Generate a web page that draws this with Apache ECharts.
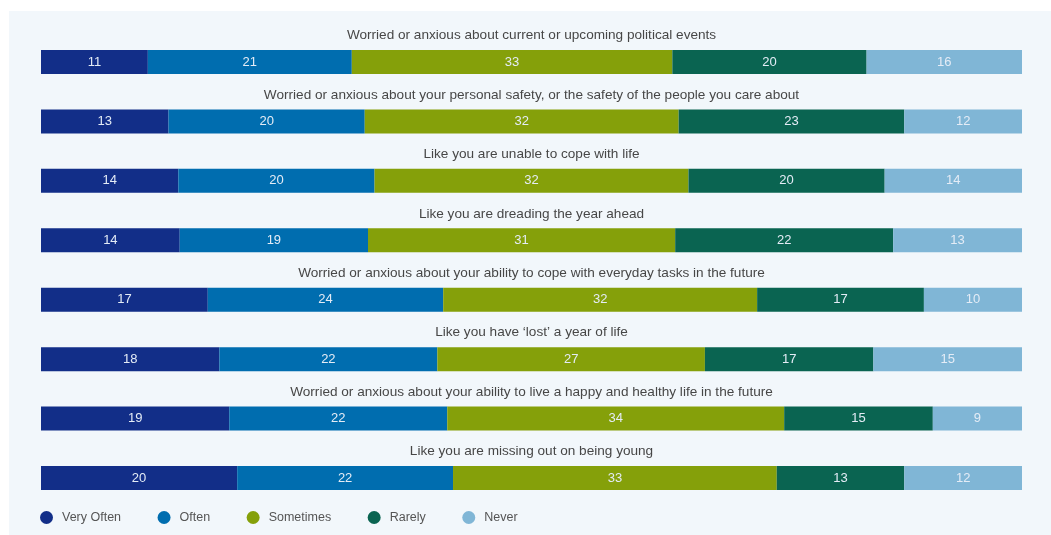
<!DOCTYPE html>
<html>
<head>
<meta charset="utf-8">
<script src="https://cdn.jsdelivr.net/npm/echarts@6/dist/echarts.min.js"></script>
<style>
html,body{margin:0;padding:0;background:#ffffff;}
#c{width:1051px;height:535px;}
</style>
</head>
<body>
<div id="c"></div>
<script>
var questions = [
  "Worried or anxious about current or upcoming political events",
  "Worried or anxious about your personal safety, or the safety of the people you care about",
  "Like you are unable to cope with life",
  "Like you are dreading the year ahead",
  "Worried or anxious about your ability to cope with everyday tasks in the future",
  "Like you have \u2018lost\u2019 a year of life",
  "Worried or anxious about your ability to live a happy and healthy life in the future",
  "Like you are missing out on being young"
];
var responses = ["Very Often", "Often", "Sometimes", "Rarely", "Never"];
var veryOften = [11, 13, 14, 14, 17, 18, 19, 20];
var often     = [21, 20, 20, 19, 24, 22, 22, 22];
var sometimes = [33, 32, 32, 31, 32, 27, 34, 33];
var rarely    = [20, 23, 20, 22, 17, 17, 15, 13];
var never     = [16, 12, 14, 13, 10, 15, 9, 12];
var colors = ["#122e88", "#006daf", "#85a00a", "#0a6451", "#80b6d6"];

var values = [veryOften, often, sometimes, rarely, never];
var fontFam = "'Liberation Sans', Arial, Helvetica, sans-serif";
var firstTop = 50, pitch = 59.43, barH = 24, leftPx = 41, rightPx = 29;

var grids = [], xAxes = [], yAxes = [], series = [], graphics = [];
graphics.push({type:'rect', shape:{x:9, y:11, width:1042, height:524}, style:{fill:'#f2f7fb'}, z:-10, silent:true});
questions.forEach(function(q, r){
  var top = firstTop + r * pitch;
  var total = 0;
  values.forEach(function(arr){ total += arr[r]; });
  grids.push({left:leftPx, right:rightPx, top:top, height:barH, containLabel:false});
  xAxes.push({type:'value', gridIndex:r, min:0, max:total, show:false});
  yAxes.push({type:'category', gridIndex:r, data:[q], show:false});
  graphics.push({type:'text', x:(leftPx + 1051 - rightPx)/2, y:top - 14.5, style:{text:q, fill:'#474747', font:'13.6px ' + fontFam, textAlign:'center', textVerticalAlign:'middle'}, silent:true});
  responses.forEach(function(name, c){
    series.push({
      type:'bar', name:name, stack:'row'+r, xAxisIndex:r, yAxisIndex:r,
      barWidth:barH, data:[values[c][r]],
      itemStyle:{color:colors[c]},
      label:{show:true, position:'inside', color:'#e4ecf6', fontSize:13, fontFamily:fontFam},
      emphasis:{disabled:true}, animation:false
    });
  });
});

var chart = echarts.init(document.getElementById('c'), null, {renderer:'canvas'});
chart.setOption({
  animation:false,
  backgroundColor:'#ffffff',
  color:colors,
  textStyle:{fontFamily:fontFam},
  grid:grids, xAxis:xAxes, yAxis:yAxes, series:series,
  graphic:graphics,
  legend:{
    data:responses, left:40, top:511, icon:'circle', itemWidth:13, itemHeight:13,
    itemGap:36.5, padding:0,
    textStyle:{color:'#555555', fontSize:12.5, fontFamily:fontFam, padding:[0,0,0,4]}
  }
});
</script>
</body>
</html>
